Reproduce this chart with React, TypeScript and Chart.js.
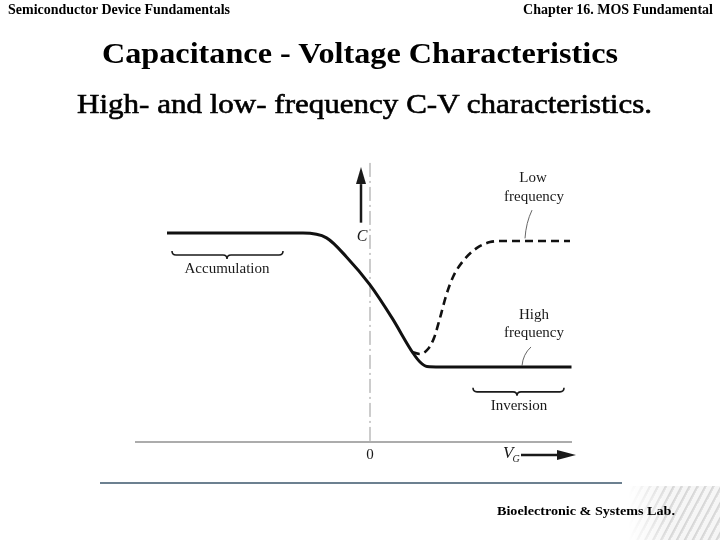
import React, { useEffect, useLayoutEffect, useRef } from "react";
import Chart from "chart.js/auto";

// High-frequency C-V curve (solid)
const hfVoltage = [-4.06, -1.34, -0.87, -0.47, 0, 0.44, 0.86, 1.0, 1.14, 1.4, 4.03];
const hfCapacitance = [1.0, 1.0, 0.977, 0.886, 0.752, 0.594, 0.426, 0.383, 0.361, 0.359, 0.359];
// Low-frequency C-V curve (dashed)
const lfVoltage = [0.84, 1.0, 1.16, 1.28, 1.4, 1.52, 1.66, 1.86, 2.14, 2.4, 2.64, 4.0];
const lfCapacitance = [0.431, 0.421, 0.445, 0.498, 0.594, 0.699, 0.79, 0.866, 0.929, 0.957, 0.962, 0.962];

const headerLeft = "Semiconductor Device Fundamentals";
const headerRight = "Chapter 16. MOS Fundamental";
const titleText = "Capacitance - Voltage Characteristics";
const subtitleText = "High- and low- frequency C-V characteristics.";
const footerText = "Bioelectronic & Systems Lab.";
const regionLabels = ["Accumulation", "Inversion"];
const curveLabels = [["Low", "frequency"], ["High", "frequency"]];
const axisLabels = ["C", "0", "V", "G"];

const SERIF = "'Liberation Serif', 'Times New Roman', serif";

function toPoints(xs: number[], ys: number[]) {
  return xs.map((v, i) => ({ x: v, y: ys[i] }));
}

function drawArrow(ctx: CanvasRenderingContext2D, x1: number, y1: number, x2: number, y2: number, len: number, half: number) {
  const ang = Math.atan2(y2 - y1, x2 - x1);
  const bx = x2 - Math.cos(ang) * len;
  const by = y2 - Math.sin(ang) * len;
  ctx.beginPath();
  ctx.moveTo(x1, y1);
  ctx.lineTo(bx, by);
  ctx.stroke();
  ctx.beginPath();
  ctx.moveTo(x2, y2);
  ctx.lineTo(bx + Math.sin(ang) * half, by - Math.cos(ang) * half);
  ctx.lineTo(bx - Math.sin(ang) * half, by + Math.cos(ang) * half);
  ctx.closePath();
  ctx.fill();
}

function drawBrace(ctx: CanvasRenderingContext2D, x1: number, x2: number, xm: number, y: number, d: number) {
  ctx.beginPath();
  ctx.moveTo(x1, y - d);
  ctx.quadraticCurveTo(x1, y, x1 + d, y);
  ctx.lineTo(xm - d, y);
  ctx.quadraticCurveTo(xm, y, xm, y + d);
  ctx.quadraticCurveTo(xm, y, xm + d, y);
  ctx.lineTo(x2 - d, y);
  ctx.quadraticCurveTo(x2, y, x2, y - d);
  ctx.stroke();
}

const annotationPlugin = {
  id: "cvAnnotations",
  beforeDatasetsDraw(chart: any) {
    const { ctx, scales } = chart;
    const X = (v: number) => scales.x.getPixelForValue(v);
    const Y = (v: number) => scales.y.getPixelForValue(v);
    ctx.save();
    ctx.strokeStyle = "#999";
    ctx.lineWidth = 1;
    ctx.setLineDash([14, 4, 2, 4]);
    ctx.beginPath();
    ctx.moveTo(X(0), Y(1.336));
    ctx.lineTo(X(0), Y(0));
    ctx.stroke();
    ctx.setLineDash([]);
    ctx.strokeStyle = "#5a5a5a";
    ctx.lineWidth = 1.2;
    ctx.beginPath();
    ctx.moveTo(X(-4.7), Y(0));
    ctx.lineTo(X(4.04), Y(0));
    ctx.stroke();
    ctx.restore();
  },
  afterDatasetsDraw(chart: any) {
    const { ctx, scales } = chart;
    const X = (v: number) => scales.x.getPixelForValue(v);
    const Y = (v: number) => scales.y.getPixelForValue(v);
    ctx.save();
    ctx.fillStyle = "#1a1a1a";
    ctx.strokeStyle = "#1a1a1a";

    // C axis arrow
    ctx.lineWidth = 2.5;
    drawArrow(ctx, X(-0.18), Y(1.05), X(-0.18), Y(1.316), 17, 5);
    // V_G arrow
    drawArrow(ctx, X(3.02), Y(-0.062), X(4.12), Y(-0.062), 19, 5);

    ctx.textAlign = "center";
    ctx.textBaseline = "middle";
    ctx.font = `italic 16px ${SERIF}`;
    ctx.fillText(axisLabels[0], X(-0.16), Y(0.98));
    ctx.font = `15px ${SERIF}`;
    ctx.fillText(axisLabels[1], X(0), Y(-0.062));
    ctx.textAlign = "right";
    ctx.font = `italic 17px ${SERIF}`;
    ctx.fillText(axisLabels[2], X(2.87), Y(-0.056));
    ctx.textAlign = "left";
    ctx.font = `italic 10px ${SERIF}`;
    ctx.fillText(axisLabels[3], X(2.85), Y(-0.085));

    // braces
    ctx.lineWidth = 1.6;
    drawBrace(ctx, X(-3.96), X(-1.74), X(-2.86), Y(0.895), 4);
    drawBrace(ctx, X(2.06), X(3.88), X(2.94), Y(0.24), 4);

    ctx.textAlign = "center";
    ctx.font = `15px ${SERIF}`;
    ctx.fillText(regionLabels[0], X(-2.86), Y(0.826));
    ctx.fillText(regionLabels[1], X(2.98), Y(0.17));

    ctx.fillText(curveLabels[0][0], X(3.26), Y(1.264));
    ctx.fillText(curveLabels[0][1], X(3.28), Y(1.173));
    ctx.fillText(curveLabels[1][0], X(3.28), Y(0.608));
    ctx.fillText(curveLabels[1][1], X(3.28), Y(0.522));

    // leader lines
    ctx.lineWidth = 0.9;
    ctx.strokeStyle = "#555";
    ctx.beginPath();
    ctx.moveTo(X(3.24), Y(1.11));
    ctx.quadraticCurveTo(X(3.12), Y(1.05), X(3.1), Y(0.975));
    ctx.stroke();
    ctx.beginPath();
    ctx.moveTo(X(3.22), Y(0.455));
    ctx.quadraticCurveTo(X(3.06), Y(0.42), X(3.04), Y(0.365));
    ctx.stroke();
    ctx.restore();
  },
};

function FitText(props: { text: string; left: number; top: number; width: number; size: number; weight: number; stroke?: number }) {
  const ref = useRef<HTMLSpanElement>(null);
  useLayoutEffect(() => {
    const el = ref.current;
    if (!el) return;
    el.style.transform = "none";
    const w = el.getBoundingClientRect().width;
    if (w > 0) el.style.transform = `scaleX(${props.width / w})`;
  }, [props.text, props.width]);
  return (
    <span
      ref={ref}
      style={{
        position: "absolute",
        left: props.left,
        top: props.top,
        fontFamily: SERIF,
        fontSize: props.size,
        fontWeight: props.weight,
        lineHeight: 1,
        whiteSpace: "nowrap",
        transformOrigin: "0 0",
        color: "#000",
        WebkitTextStroke: props.stroke ? `${props.stroke}px #000` : undefined,
      }}
    >
      {props.text}
    </span>
  );
}

export default function App() {
  const canvasRef = useRef<HTMLCanvasElement>(null);
  useEffect(() => {
    if (!canvasRef.current) return;
    const chart = new Chart(canvasRef.current, {
      type: "line",
      data: {
        datasets: [
          {
            label: "High frequency",
            data: toPoints(hfVoltage, hfCapacitance),
            borderColor: "#111",
            borderWidth: 3,
            pointRadius: 0,
            cubicInterpolationMode: "monotone",
            fill: false,
          },
          {
            label: "Low frequency",
            data: toPoints(lfVoltage, lfCapacitance),
            borderColor: "#111",
            borderWidth: 2.6,
            borderDash: [8, 5],
            pointRadius: 0,
            cubicInterpolationMode: "monotone",
            fill: false,
          },
        ],
      },
      options: {
        responsive: false,
        animation: false,
        layout: { padding: { left: 160, right: 140, top: 160, bottom: 98 } },
        plugins: { legend: { display: false }, tooltip: { enabled: false } },
        scales: {
          x: { type: "linear", min: -4.2, max: 4.2, display: false },
          y: { type: "linear", min: 0, max: 1.35, display: false },
        },
      },
      plugins: [annotationPlugin],
    });
    return () => chart.destroy();
  }, []);

  return (
    <div style={{ position: "fixed", left: 0, top: 0, width: 720, height: 540, background: "#fff", overflow: "hidden" }}>
      <canvas ref={canvasRef} width={720} height={540} style={{ position: "absolute", left: 0, top: 0, width: 720, height: 540 }} />
      <FitText text={headerLeft} left={8} top={3} width={222} size={14} weight={700} />
      <FitText text={headerRight} left={523} top={3} width={190} size={14} weight={700} />
      <FitText text={titleText} left={102} top={38} width={516} size={30} weight={700} />
      <FitText text={subtitleText} left={77} top={90} width={575} size={28} weight={400} stroke={0.6} />
      <div style={{ position: "absolute", left: 100, top: 482, width: 522, height: 1.5, background: "#6c8090" }} />
      <div
        style={{
          position: "absolute",
          left: 628,
          top: 486,
          width: 92,
          height: 54,
          background: "repeating-linear-gradient(118deg, #f6f6f6 0px, #f6f6f6 4px, #d4d4d4 5px, #e6e6e6 7px)",
          WebkitMaskImage: "linear-gradient(to right, transparent, black 45%)",
          maskImage: "linear-gradient(to right, transparent, black 45%)",
        }}
      />
      <FitText text={footerText} left={497} top={504} width={178} size={13} weight={700} />
    </div>
  );
}
